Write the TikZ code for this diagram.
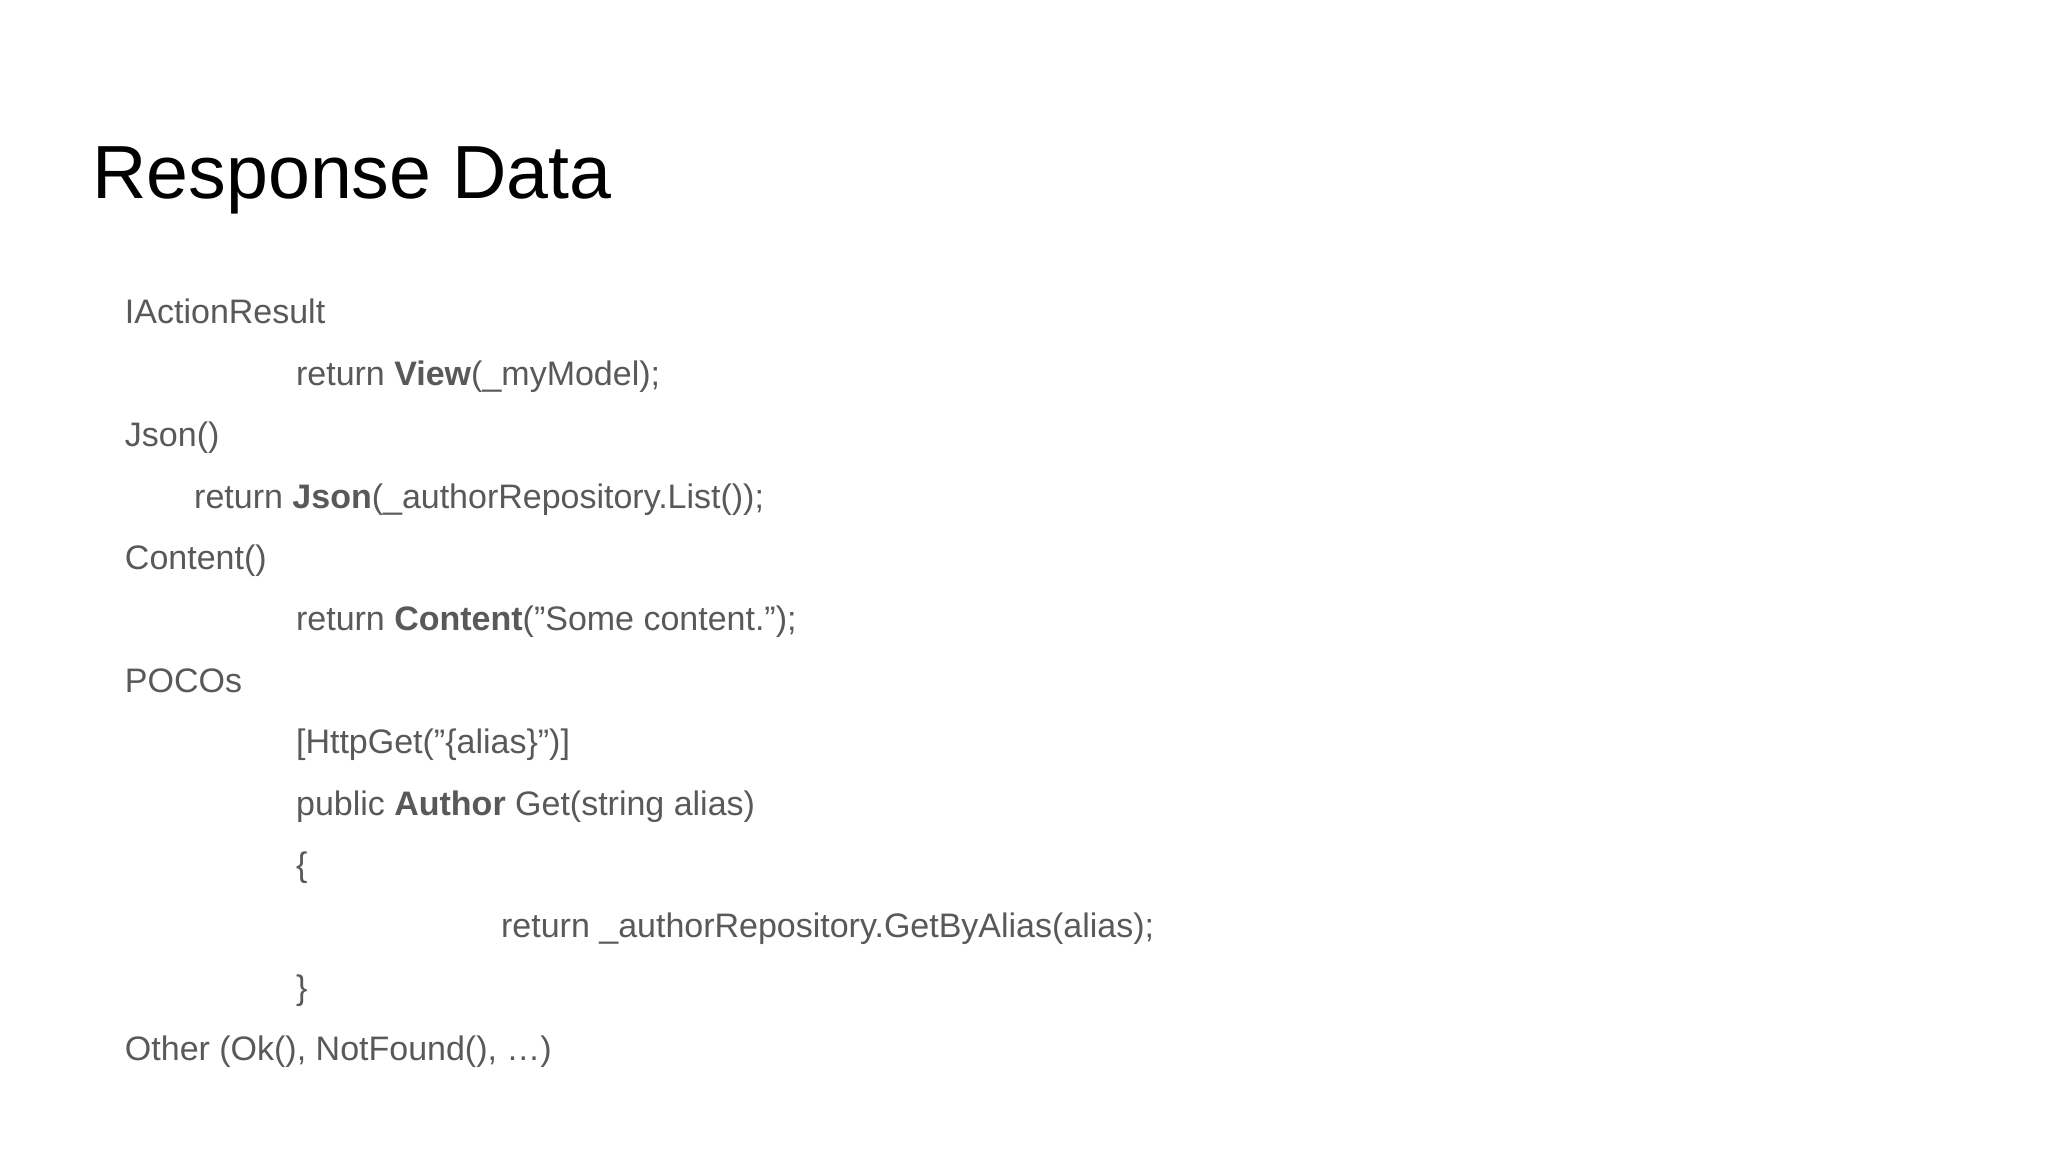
\documentclass[tikz,border=0pt]{standalone}
\usepackage{fontspec}
\setmainfont{Liberation Sans}
\definecolor{body}{HTML}{595959}
\tikzset{ln/.style={anchor=base west,inner sep=0pt,text=body,font=\fontsize{7.4pt}{9pt}\selectfont},
ttl/.style={anchor=base west,inner sep=0pt,text=black,font=\fontsize{16.4pt}{20pt}\selectfont}}
\begin{document}
\begin{tikzpicture}[x=0.01cm,y=-0.01cm]
\useasboundingbox[fill=white] (0,0) rectangle (1568,882);
\node[ttl] (t) at (70,152) {Response Data};
\node[ln] (a1) at (95,248) {IActionResult};
\node[ln] (a2) at (226,295) {return \textbf{View}(\_myModel);};
\node[ln] (a3) at (95,342) {Json()};
\node[ln] (a4) at (148,389) {return \textbf{Json}(\_authorRepository.List());};
\node[ln] (a5) at (95,436) {Content()};
\node[ln] (a6) at (226,483) {return \textbf{Content}("Some content.");};
\node[ln] (a7) at (95,530) {POCOs};
\node[ln] (a8) at (226,577) {[HttpGet("\{alias\}")]};
\node[ln] (a9) at (226,624) {public \textbf{Author} Get(string alias)};
\node[ln] (a10) at (226,671) {\{};
\node[ln] (a11) at (383,718) {return \_authorRepository.GetByAlias(alias);};
\node[ln] (a12) at (226,765) {\}};
\node[ln] (a13) at (95,812) {Other (Ok(), NotFound(), …)};
\end{tikzpicture}
\end{document}
